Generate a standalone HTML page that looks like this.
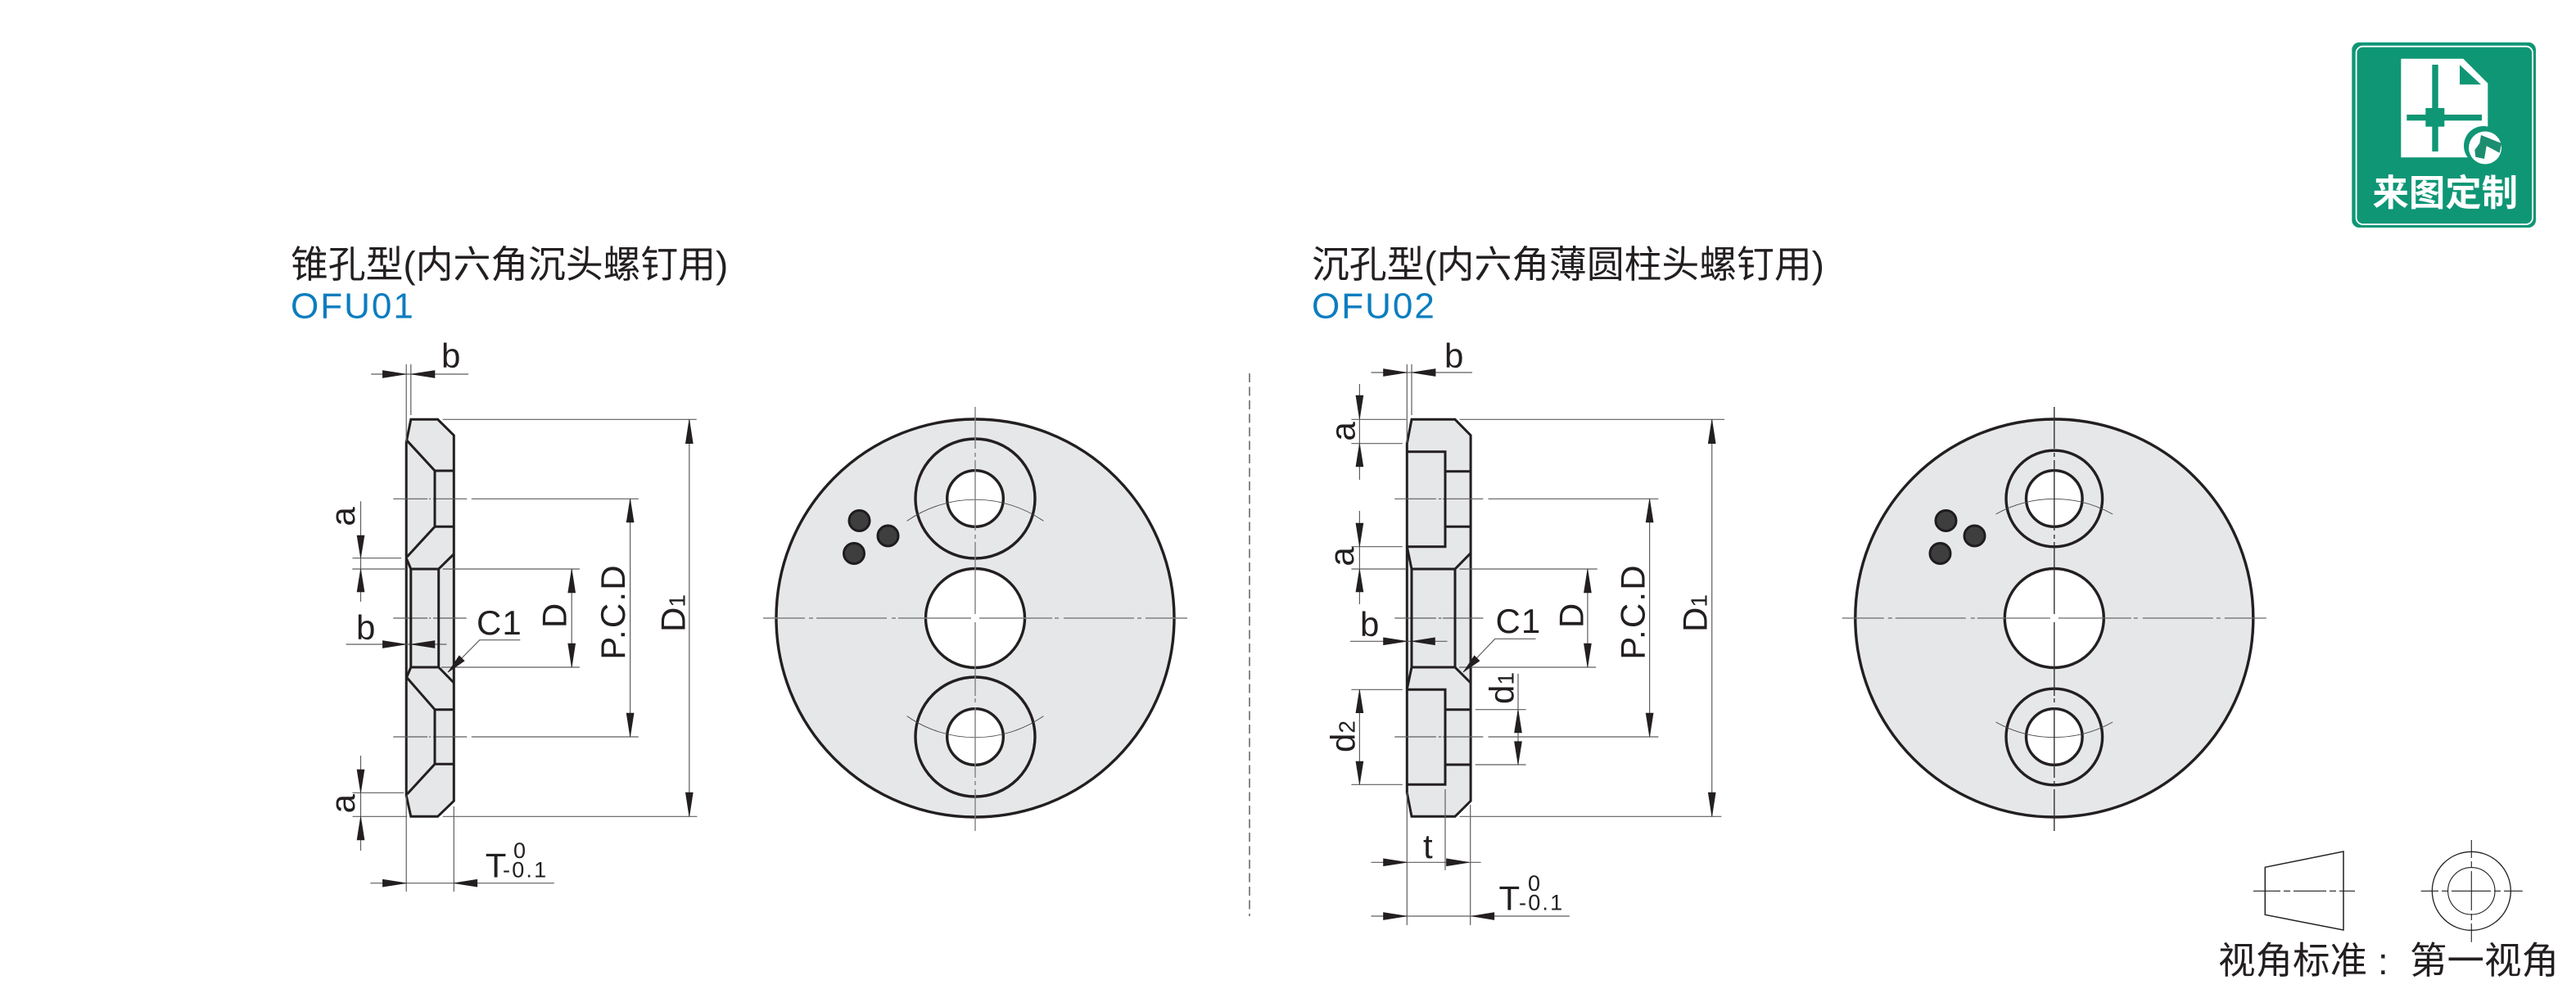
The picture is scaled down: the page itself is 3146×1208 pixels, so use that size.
<!DOCTYPE html>
<html><head><meta charset="utf-8"><style>
html,body{margin:0;padding:0;background:#fff}
svg{display:block}
text{font-family:"Liberation Sans","Noto Sans CJK SC",sans-serif;fill:#231f20}
.t{font-size:42px}
.l{letter-spacing:2.2px}
.s{font-size:27px}
.ti{font-size:45.8px;font-family:"Liberation Sans","Noto Sans CJK SC",sans-serif}
.c{font-size:44px;fill:#0b7dbf;letter-spacing:2px}
.th{fill:none;stroke:#5e5e5e;stroke-width:1.2}
.ar{fill:#231f20;stroke:#231f20;stroke-width:.6}
.ol{fill:none;stroke:#231f20;stroke-width:3;stroke-linejoin:miter}
.part{fill:#e6e7e9;stroke:#231f20;stroke-width:3}
.hole{fill:#fff;stroke:#231f20;stroke-width:3.4}
.ring{fill:none;stroke:#231f20;stroke-width:3.4}
.dot{fill:#3f3e3e;stroke:#1f1c1d;stroke-width:3}
.arc{fill:none;stroke:#444;stroke-width:.9}
</style></head><body>
<svg xmlns="http://www.w3.org/2000/svg" width="3146" height="1208" viewBox="0 0 3146 1208">
<rect width="3146" height="1208" fill="#fff"/>

<!-- Titles -->
<text class="ti" x="355" y="339">锥孔型(内六角沉头螺钉用)</text>
<text class="c" x="355" y="388.5">OFU01</text>
<text class="ti" x="1602" y="339">沉孔型(内六角薄圆柱头螺钉用)</text>
<text class="c" x="1602" y="388.5">OFU02</text>

<!-- Separator -->
<path d="M1526 456V1119" stroke="#888" stroke-width="2" stroke-dasharray="11 5.5" fill="none"/>

<!-- LEFT SIDE VIEW -->
<path class="part" d="M501.8 512.3H534.6L554.3 531.7V978.3L534.6 997.3H501.8L496.2 971.7V540Z"/>
<path class="th" d="M453.2 457H572.1M496.2 445V540M501.8 445V507
M540.7 512.3H850.7M540.7 997.3H851.4M841.8 512.3V997.3
M480.3 609.3H522.1M524.1 609.3H526.1M529 609.3H570.3M575.8 609.3H779.8M769.6 609.3V900
M480.3 900H522.1M524.1 900H526.1M529 900H570.3M575.8 900H779.8
M430.3 695H496M540.7 695H707.9M539 815H707.9M698.2 695V815
M430.5 681.7H490.2M440.5 612.3V735
M440.5 923V1039M430.5 968.3H493.2M430.5 997.3H497.2
M422.6 787H545.4
M480.3 755H522.1M524.1 755H526.1M529 755H569.7
M547 821L585.8 781.7H635.3
M496.2 972V1089M554.3 985V1089M452.4 1078.7H676.8"/>
<path class="ol" d="M497.2 538.3L531 575V643.3L497.2 680M531 575H553.9M531 643.3H553.9
M496.2 681.7L501.8 695H535.7L554.3 676.7M501.8 695V815M535.7 695V815
M496.2 828.3L501.8 815H535.7L554.3 834M497.2 828L531 866.7V933.3L497.2 970M531 866.7H553.9M531 933.3H553.9"/>
<g class="ar">
<polygon points="467.4,452.5 496.2,457 467.4,461.5"/><polygon points="531,452.5 501.8,457 531,461.5"/>
<polygon points="467.4,782.5 496.2,787 467.4,791.5"/><polygon points="531,782.5 501.8,787 531,791.5"/>
<polygon points="467.4,1074.2 496.2,1078.7 467.4,1083.2"/><polygon points="582.8,1074.2 554.3,1078.7 582.8,1083.2"/>
<polygon points="436,654 440.5,681.7 445,654"/><polygon points="436,723 440.5,695 445,723"/>
<polygon points="436,940 440.5,968.3 445,940"/><polygon points="436,1026 440.5,997.3 445,1026"/>
<polygon points="837.3,541.7 841.8,512.3 846.3,541.7"/><polygon points="837.3,968 841.8,997.3 846.3,968"/>
<polygon points="765.1,638 769.6,609.3 774.1,638"/><polygon points="765.1,871 769.6,900 774.1,871"/>
<polygon points="693.7,724 698.2,695 702.7,724"/><polygon points="693.7,786 698.2,815 702.7,786"/>
<polygon points="547.2,821 567.2,807.2 560.8,800.8"/>
</g>
<text class="t" x="539" y="449">b</text>
<text class="t" x="435" y="781">b</text>
<text class="t" x="582" y="775" letter-spacing="1">C1</text>
<text class="t" text-anchor="middle" transform="translate(433 631) rotate(-90)">a</text>
<text class="t" text-anchor="middle" transform="translate(433 981.7) rotate(-90)">a</text>
<text class="t" text-anchor="middle" transform="translate(691.5 752) rotate(-90)">D</text>
<text class="t l" text-anchor="middle" transform="translate(763 747) rotate(-90)">P.C.D</text>
<text class="t" transform="translate(836.5 772) rotate(-90)">D<tspan font-size="28">1</tspan></text>
<text class="t" x="592.7" y="1071.7">T</text>
<text class="s" x="627" y="1048">0</text>
<text class="s" x="614" y="1071.7" letter-spacing="2.2">-0.1</text>

<!-- LEFT FRONT VIEW -->
<circle cx="1191" cy="755" r="243" fill="#e6e7e9" stroke="#231f20" stroke-width="3.4"/>
<circle class="ring" cx="1191" cy="609" r="73"/>
<circle class="ring" cx="1191" cy="900" r="73"/>
<circle class="hole" cx="1191" cy="609" r="34.3"/>
<circle class="hole" cx="1191" cy="900" r="34.3"/>
<circle class="hole" cx="1191" cy="755" r="60.5"/>
<path class="arc" d="M1107.6 636.4A146 146 0 0 1 1274.4 636.4M1107.6 874.6A146 146 0 0 0 1274.4 874.6"/>
<circle class="dot" cx="1049.5" cy="636" r="12.5"/>
<circle class="dot" cx="1084.5" cy="654.5" r="12.5"/>
<circle class="dot" cx="1043" cy="676" r="12.5"/>
<path d="M932 755H983M988 755H993M997 755H1083M1089 755H1094M1097 755H1186M1196 755H1285M1288 755H1293M1299 755H1385M1389 755H1394M1399 755H1450
M1191 497V548M1191 553V558M1191 562V648M1191 653V658M1191 662V750M1191 760V850M1191 853V858M1191 864V950M1191 954V959M1191 964V1015" stroke="#808080" stroke-width="1.4" fill="none"/>

<!-- RIGHT SIDE VIEW -->
<path class="part" d="M1724 512.3H1777L1796.1 531.7V978.3L1777 997.3H1724L1718.3 968.3V541.7Z"/>
<path class="th" d="M1674.5 455H1798M1718.3 445V541M1724 445V507
M1660.4 469V586M1650.4 512.3H1717.3M1650.4 541.7H1712.8
M1660.4 624V738M1650.4 667.7H1712.8M1650.4 695H1717.3
M1782.5 512.3H2106M1782.5 997.3H2102.4M2090.7 512.3V997.3
M1703.2 609.3H1753.9M1756.8 609.3H1760.4M1762.1 609.3H1811.4M1817.5 609.3H2025.4M2014.6 609.3V900
M1703.2 900H1753.9M1756.8 900H1760.4M1762.1 900H1811.4M1817.5 900H2025.4
M1782.5 695H1950.7M1782 815H1949M1938.9 695V815
M1703.2 755H1753.9M1756.8 755H1760.4M1762.1 755H1811.4
M1649 783.3H1767.5
M1787 821L1825.8 780.3H1875.5
M1854 823V934M1801.9 866.7H1863.6M1801.9 934H1863.6
M1660.4 842.3V958.3M1650.4 842.3H1712.8M1650.4 958.3H1712.8
M1674.5 1053.3H1808.6M1765 964V1063
M1674.5 1119H1916.8M1718.3 968V1130M1795.7 983V1130"/>
<path class="ol" d="M1718.3 551.7H1765V667.7H1718.3M1765 575.7H1796M1765 643.3H1796
M1718.3 667.7L1724 695H1777L1796 675.7M1724 695V815M1777 695V815
M1724 815L1718.3 841.7M1777 815L1796 834M1724 815H1777
M1718.3 842.3H1765V958.3H1718.3M1765 866.7H1796M1765 934H1796"/>
<g class="ar">
<polygon points="1689.5,450.5 1718.3,455 1689.5,459.5"/><polygon points="1753.1,450.5 1724,455 1753.1,459.5"/>
<polygon points="1689.5,778.8 1718.3,783.3 1689.5,787.8"/><polygon points="1752.5,778.8 1724,783.3 1752.5,787.8"/>
<polygon points="1689.5,1048.8 1718.3,1053.3 1689.5,1057.8"/><polygon points="1766.5,1048.8 1794.3,1053.3 1766.5,1057.8"/>
<polygon points="1689.5,1114.5 1718.3,1119 1689.5,1123.5"/><polygon points="1824.8,1114.5 1796.9,1119 1824.8,1123.5"/>
<polygon points="1655.9,483 1660.4,512 1664.9,483"/><polygon points="1655.9,570 1660.4,541.7 1664.9,570"/>
<polygon points="1655.9,639 1660.4,667.7 1664.9,639"/><polygon points="1655.9,723 1660.4,695 1664.9,723"/>
<polygon points="1655.9,870.7 1660.4,842.3 1664.9,870.7"/><polygon points="1655.9,930 1660.4,958.3 1664.9,930"/>
<polygon points="1849.5,895 1854,866.7 1858.5,895"/><polygon points="1849.5,905.7 1854,934 1858.5,905.7"/>
<polygon points="2086.2,541.7 2090.7,512.3 2095.2,541.7"/><polygon points="2086.2,968 2090.7,997.3 2095.2,968"/>
<polygon points="2010.1,638 2014.6,609.3 2019.1,638"/><polygon points="2010.1,871 2014.6,900 2019.1,871"/>
<polygon points="1934.4,724 1938.9,695 1943.4,724"/><polygon points="1934.4,786 1938.9,815 1943.4,786"/>
<polygon points="1787,821 1807,807.2 1800.6,800.8"/>
</g>
<text class="t" x="1764" y="449">b</text>
<text class="t" x="1661" y="777">b</text>
<text class="t" x="1826.5" y="773" letter-spacing="1">C1</text>
<text class="t" x="1738" y="1048">t</text>
<text class="t" text-anchor="middle" transform="translate(1654.5 527) rotate(-90)">a</text>
<text class="t" text-anchor="middle" transform="translate(1653 680) rotate(-90)">a</text>
<text class="t" text-anchor="middle" transform="translate(1933.5 752) rotate(-90)">D</text>
<text class="t l" text-anchor="middle" transform="translate(2008.6 747) rotate(-90)">P.C.D</text>
<text class="t" transform="translate(2084.5 772) rotate(-90)">D<tspan font-size="28">1</tspan></text>
<text class="t" transform="translate(1848.6 860) rotate(-90)">d<tspan font-size="28">1</tspan></text>
<text class="t" transform="translate(1654.5 919) rotate(-90)">d<tspan font-size="28">2</tspan></text>
<text class="t" x="1830.5" y="1111.7">T</text>
<text class="s" x="1866" y="1088">0</text>
<text class="s" x="1855" y="1111.7" letter-spacing="2.2">-0.1</text>

<!-- RIGHT FRONT VIEW -->
<circle cx="2508.8" cy="755" r="243" fill="#e6e7e9" stroke="#231f20" stroke-width="3.4"/>
<circle class="ring" cx="2508.8" cy="609" r="58.8"/>
<circle class="ring" cx="2508.8" cy="900" r="58.8"/>
<circle class="hole" cx="2508.8" cy="609" r="34.3"/>
<circle class="hole" cx="2508.8" cy="900" r="34.3"/>
<circle class="hole" cx="2508.8" cy="755" r="60.5"/>
<path class="arc" d="M2437.5 628A146 146 0 0 1 2580.1 628M2437.5 882A146 146 0 0 0 2580.1 882"/>
<circle class="dot" cx="2376.5" cy="636" r="12.5"/>
<circle class="dot" cx="2411.5" cy="654.5" r="12.5"/>
<circle class="dot" cx="2369.5" cy="676" r="12.5"/>
<path d="M2249.8 755H2300.8M2305.8 755H2310.8M2314.8 755H2400.8M2406.8 755H2411.8M2414.8 755H2503.8M2513.8 755H2602.8M2605.8 755H2610.8M2616.8 755H2702.8M2706.8 755H2711.8M2716.8 755H2767.8" stroke="#6a6a6a" stroke-width="1.3" fill="none"/>
<path d="M2508.8 497V548M2508.8 553V558M2508.8 562V648M2508.8 653V658M2508.8 662V750M2508.8 760V850M2508.8 853V858M2508.8 864V950M2508.8 954V959M2508.8 964V1015" stroke="#333" stroke-width="1.4" fill="none"/>

<!-- Badge -->
<rect x="2872.3" y="51.7" width="224.7" height="226.3" rx="9" fill="#0f9675"/>
<rect x="2877.6" y="56.7" width="215.4" height="217.3" rx="8" fill="none" stroke="#fff" stroke-width="1.8"/>
<polygon points="2932.3,71.7 3008.3,71.7 3038.3,101.7 3038.3,192.3 2932.3,192.3" fill="#fff"/>
<polygon points="3004,79.3 3004,103.3 3030,103.3" fill="#0f9675"/>
<rect x="2970.3" y="79" width="7.4" height="106" fill="#0f9675"/>
<rect x="2939.3" y="140" width="91.7" height="7.3" fill="#0f9675"/>
<rect x="2962.3" y="132" width="23" height="22.7" fill="#0f9675"/>
<circle cx="3033" cy="178" r="24" fill="#0f9675"/>
<circle cx="3035" cy="180.5" r="20" fill="#fff"/>
<polygon points="3030,165 3055,175 3052.7,186.7 3036.7,178.3 3034,194 3023.3,191.7 3022.3,183.3 3028.3,175" fill="#1d8d70"/>
<text x="2897.5" y="251" style="font-family:'Noto Sans CJK SC',sans-serif;font-size:44.4px;font-weight:700;fill:#fff">来图定制</text>

<!-- View standard -->
<path d="M2766.3 1059.3L2862 1040V1136L2766.3 1117.3Z" fill="none" stroke="#231f20" stroke-width="1.5"/>
<path d="M2752 1088.3H2785M2789 1088.3H2797M2801 1088.3H2841M2845 1088.3H2853M2857 1088.3H2876" stroke="#231f20" stroke-width="1.1" fill="none"/>
<circle cx="3018.3" cy="1088.3" r="48" fill="none" stroke="#231f20" stroke-width="1.3"/>
<circle cx="3018.3" cy="1088.3" r="28.7" fill="none" stroke="#231f20" stroke-width="1.1"/>
<path d="M2956.7 1088.3H2978M2982 1088.3H2990M2994 1088.3H3042M3046 1088.3H3054M3058 1088.3H3080.7
M3018.3 1026V1048M3018.3 1052V1060M3018.3 1064V1112M3018.3 1116V1124M3018.3 1128V1150.7" stroke="#231f20" stroke-width="1.1" fill="none"/>
<text x="2709" y="1189" style="font-size:45.5px">视角标准</text>
<text x="2904" y="1190" style="font-size:45.5px">:</text>
<text x="2943" y="1189" style="font-size:45.5px">第一视角</text>
</svg>
</body></html>
